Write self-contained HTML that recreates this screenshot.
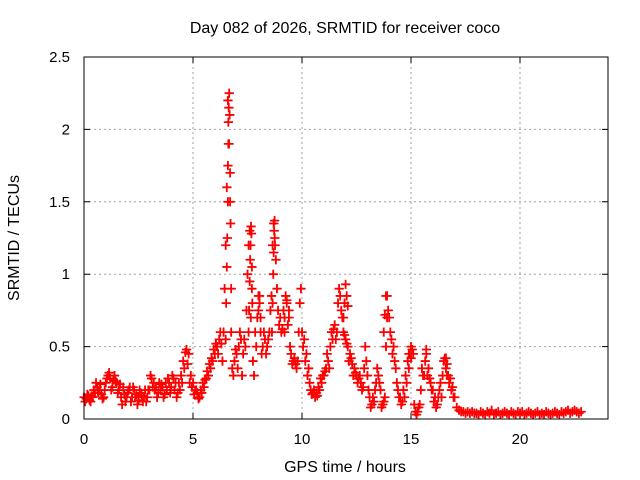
<!DOCTYPE html>
<html><head><meta charset="utf-8"><style>
body{margin:0;background:#fff;}
svg{display:block;font-family:"Liberation Sans",sans-serif;}
</style></head><body>
<svg id="chart" width="640" height="480" viewBox="0 0 640 480">
<rect width="640" height="480" fill="#fff"/>
<text x="345" y="33" font-size="16" text-anchor="middle">Day 082 of 2026, SRMTID for receiver coco</text>
<text transform="translate(19,238) rotate(-90)" font-size="16" text-anchor="middle">SRMTID / TECUs</text>
<text x="345" y="472" font-size="16" text-anchor="middle">GPS time / hours</text>
<g id="grid"></g><g id="ticks"></g><g id="marksBlack"></g><g id="marksRed"></g>
<rect x="84" y="57" width="524" height="362" fill="none" stroke="#000" stroke-width="1"/>
</svg>
<script>
const xTicks=[0,5,10,15,20];
const yTicks=[0,0.5,1,1.5,2,2.5];
const yTickLabels=["0","0.5","1","1.5","2","2.5"];
const baseStart=0, baseStep=0.1;
const baseVals=[
0.15,0.14,0.16,0.12,0.15,0.18,0.22,0.2,0.17,0.15,
0.25,0.3,0.28,0.22,0.3,0.25,0.2,0.15,0.22,0.12,
0.18,0.22,0.15,0.2,0.17,0.13,0.18,0.12,0.2,0.15,
0.2,0.28,0.25,0.22,0.18,0.2,0.22,0.17,0.2,0.25,
0.22,0.28,0.25,0.18,0.2,0.25,0.35,0.48,0.45,0.3,
0.25,0.2,0.18,0.15,0.18,0.22,0.28,0.3,0.35,0.4,
0.45,0.5,0.55,0.52,0.6,1.2,2.2,1.5,0.35,0.4,
0.45,0.5,0.55,0.45,0.5,1.0,1.3,0.9,0.3,0.5,
0.85,0.7,0.5,0.55,0.5,0.6,0.85,1.35,1.1,0.75,
0.7,0.62,0.6,0.8,0.7,0.45,0.4,0.38,0.4,0.8,
0.6,0.55,0.45,0.35,0.2,0.18,0.15,0.16,0.2,0.25,
0.3,0.35,0.4,0.5,0.55,0.65,0.6,0.9,0.75,0.6,
0.55,0.5,0.45,0.38,0.35,0.3,0.28,0.25,0.22,0.5,
0.3,0.15,0.1,0.12,0.25,0.3,0.2,0.1,0.15,0.85,
0.7,0.55,0.5,0.35,0.2,0.15,0.12,0.15,0.25,0.35,
0.5,0.45,0.05,0.05,0.1,0.35,0.3,0.45,0.35,0.25,
0.2,0.15,0.1,0.2,0.15,0.4,0.35,0.3,0.28,0.22,
0.15,0.08,0.06,0.05,0.05,0.04,0.05,0.04,0.05,0.04,
0.04,0.03,0.05,0.04,0.03,0.05,0.04,0.06,0.03,0.04,
0.05,0.03,0.04,0.05,0.04,0.03,0.05,0.04,0.03,0.05,
0.04,0.05,0.03,0.04,0.05,0.04,0.03,0.04,0.05,0.03,
0.04,0.03,0.05,0.04,0.03,0.04,0.05,0.04,0.03,0.05,
0.04,0.05,0.06,0.04,0.05,0.06,0.05,0.04,0.05];
const halfStart=0.05;
const halfVals=[
0.12,0.17,0.13,0.16,0.2,0.25,0.18,0.24,0.14,0.2,
0.28,0.32,0.2,0.27,0.26,0.18,0.24,0.1,0.17,0.15,
0.2,0.12,0.22,0.15,0.1,0.2,0.16,0.15,0.12,0.2,
0.3,0.22,0.2,0.15,0.25,0.24,0.15,0.25,0.28,0.18,
0.3,0.2,0.15,0.25,0.3,0.4,0.46,0.38,0.25,0.22,
0.17,0.2,0.14,0.2,0.25,0.27,0.33,0.38,0.42,0.48,
0.52,0.45,0.6,0.4,0.9,1.6,1.9,0.6,0.3,0.48,
0.35,0.6,0.3,0.55,0.75,1.2,0.7,0.4,0.6,0.7,
0.8,0.45,0.6,0.45,0.55,0.75,1.2,1.25,0.9,0.65,
0.6,0.75,0.85,0.65,0.5,0.38,0.42,0.35,0.6,0.9,
0.5,0.4,0.3,0.25,0.17,0.2,0.18,0.22,0.28,0.3,
0.33,0.45,0.35,0.6,0.62,0.55,0.8,0.85,0.7,0.58,
0.52,0.4,0.42,0.3,0.32,0.25,0.3,0.2,0.35,0.4,
0.2,0.08,0.15,0.2,0.35,0.25,0.08,0.12,0.5,0.75,
0.6,0.45,0.4,0.25,0.15,0.1,0.2,0.3,0.4,0.45,
0.48,0.1,0.03,0.08,0.2,0.3,0.4,0.3,0.28,0.2,
0.12,0.08,0.15,0.25,0.3,0.42,0.3,0.25,0.2,0.15];
const extraTimes=[6.5,6.52,6.55,6.57,6.6,6.6,6.62,6.62,6.64,6.66,6.68,6.7,6.72,6.75,
7.55,7.57,7.6,7.62,7.64,7.66,7.68,7.7,7.72,
8.62,8.65,8.68,8.7,8.72,8.74,8.76,
8.0,8.05,8.1,9.2,9.3,9.4,11.9,11.95,12.0,12.05,12.1,13.75,13.8,13.85,13.9,
14.9,15.0,15.7,16.6,16.65];
const extraVals=[0.55,0.8,1.05,1.25,1.5,1.75,1.9,2.05,2.15,2.25,2.1,1.7,1.35,0.9,
0.6,0.75,0.95,1.1,1.2,1.33,1.28,1.05,0.8,
0.6,0.8,1.0,1.15,1.3,1.37,1.2,
0.75,0.85,0.6,0.7,0.82,0.75,0.7,0.8,0.93,0.85,0.78,0.6,0.72,0.85,0.7,
0.45,0.42,0.48,0.42,0.38];
const X=t=>84+t*21.8;
const Y=v=>419-v*144.8;
const NS="http://www.w3.org/2000/svg";
function mk(tag,attrs,parent){const e=document.createElementNS(NS,tag);for(const k in attrs)e.setAttribute(k,attrs[k]);parent.appendChild(e);return e;}
const grid=document.getElementById('grid'),ticks=document.getElementById('ticks');
xTicks.forEach(t=>{const x=X(t);
 if(t>0){const g=mk('line',{x1:x,y1:57,x2:x,y2:419,stroke:'#a0a0a0','stroke-dasharray':'2,3'},grid);}
 const tk=mk('path',{d:`M${x},419v-6M${x},57v6`,stroke:'#000'},ticks);
 const l=mk('text',{x:x,y:444,'font-size':'15','text-anchor':'middle'},ticks);l.textContent=t;});
yTicks.forEach((v,i)=>{const y=Y(v);
 if(v>0&&v<2.5){const g=mk('line',{x1:84,y1:y,x2:608,y2:y,stroke:'#a0a0a0','stroke-dasharray':'2,3'},grid);}
 const tk=mk('path',{d:`M84,${y}h6M608,${y}h-6`,stroke:'#000'},ticks);
 const l=mk('text',{x:70,y:y+5,'font-size':'15','text-anchor':'end'},ticks);l.textContent=yTickLabels[i];});
const pts=[];
baseVals.forEach((v,i)=>pts.push([baseStart+i*baseStep,v]));
halfVals.forEach((v,i)=>pts.push([halfStart+i*baseStep,v]));
extraTimes.forEach((t,i)=>pts.push([t,extraVals[i]]));
function plus(t,v){return `M${X(t)-4.5},${Y(v)}h9M${X(t)},${Y(v)-4.5}v9`;}
let dB='',dR='';
pts.forEach(([t,v])=>{dB+=plus(t+0.01,v);dR+=plus(t,v);});
const b=mk('path',{d:dB,stroke:'#000','stroke-width':'1',fill:'none'},document.getElementById('marksBlack'));


const r=mk('path',{d:dR,stroke:'#f00','stroke-width':'1.8',fill:'none'},document.getElementById('marksRed'));


</script>
</body></html>
